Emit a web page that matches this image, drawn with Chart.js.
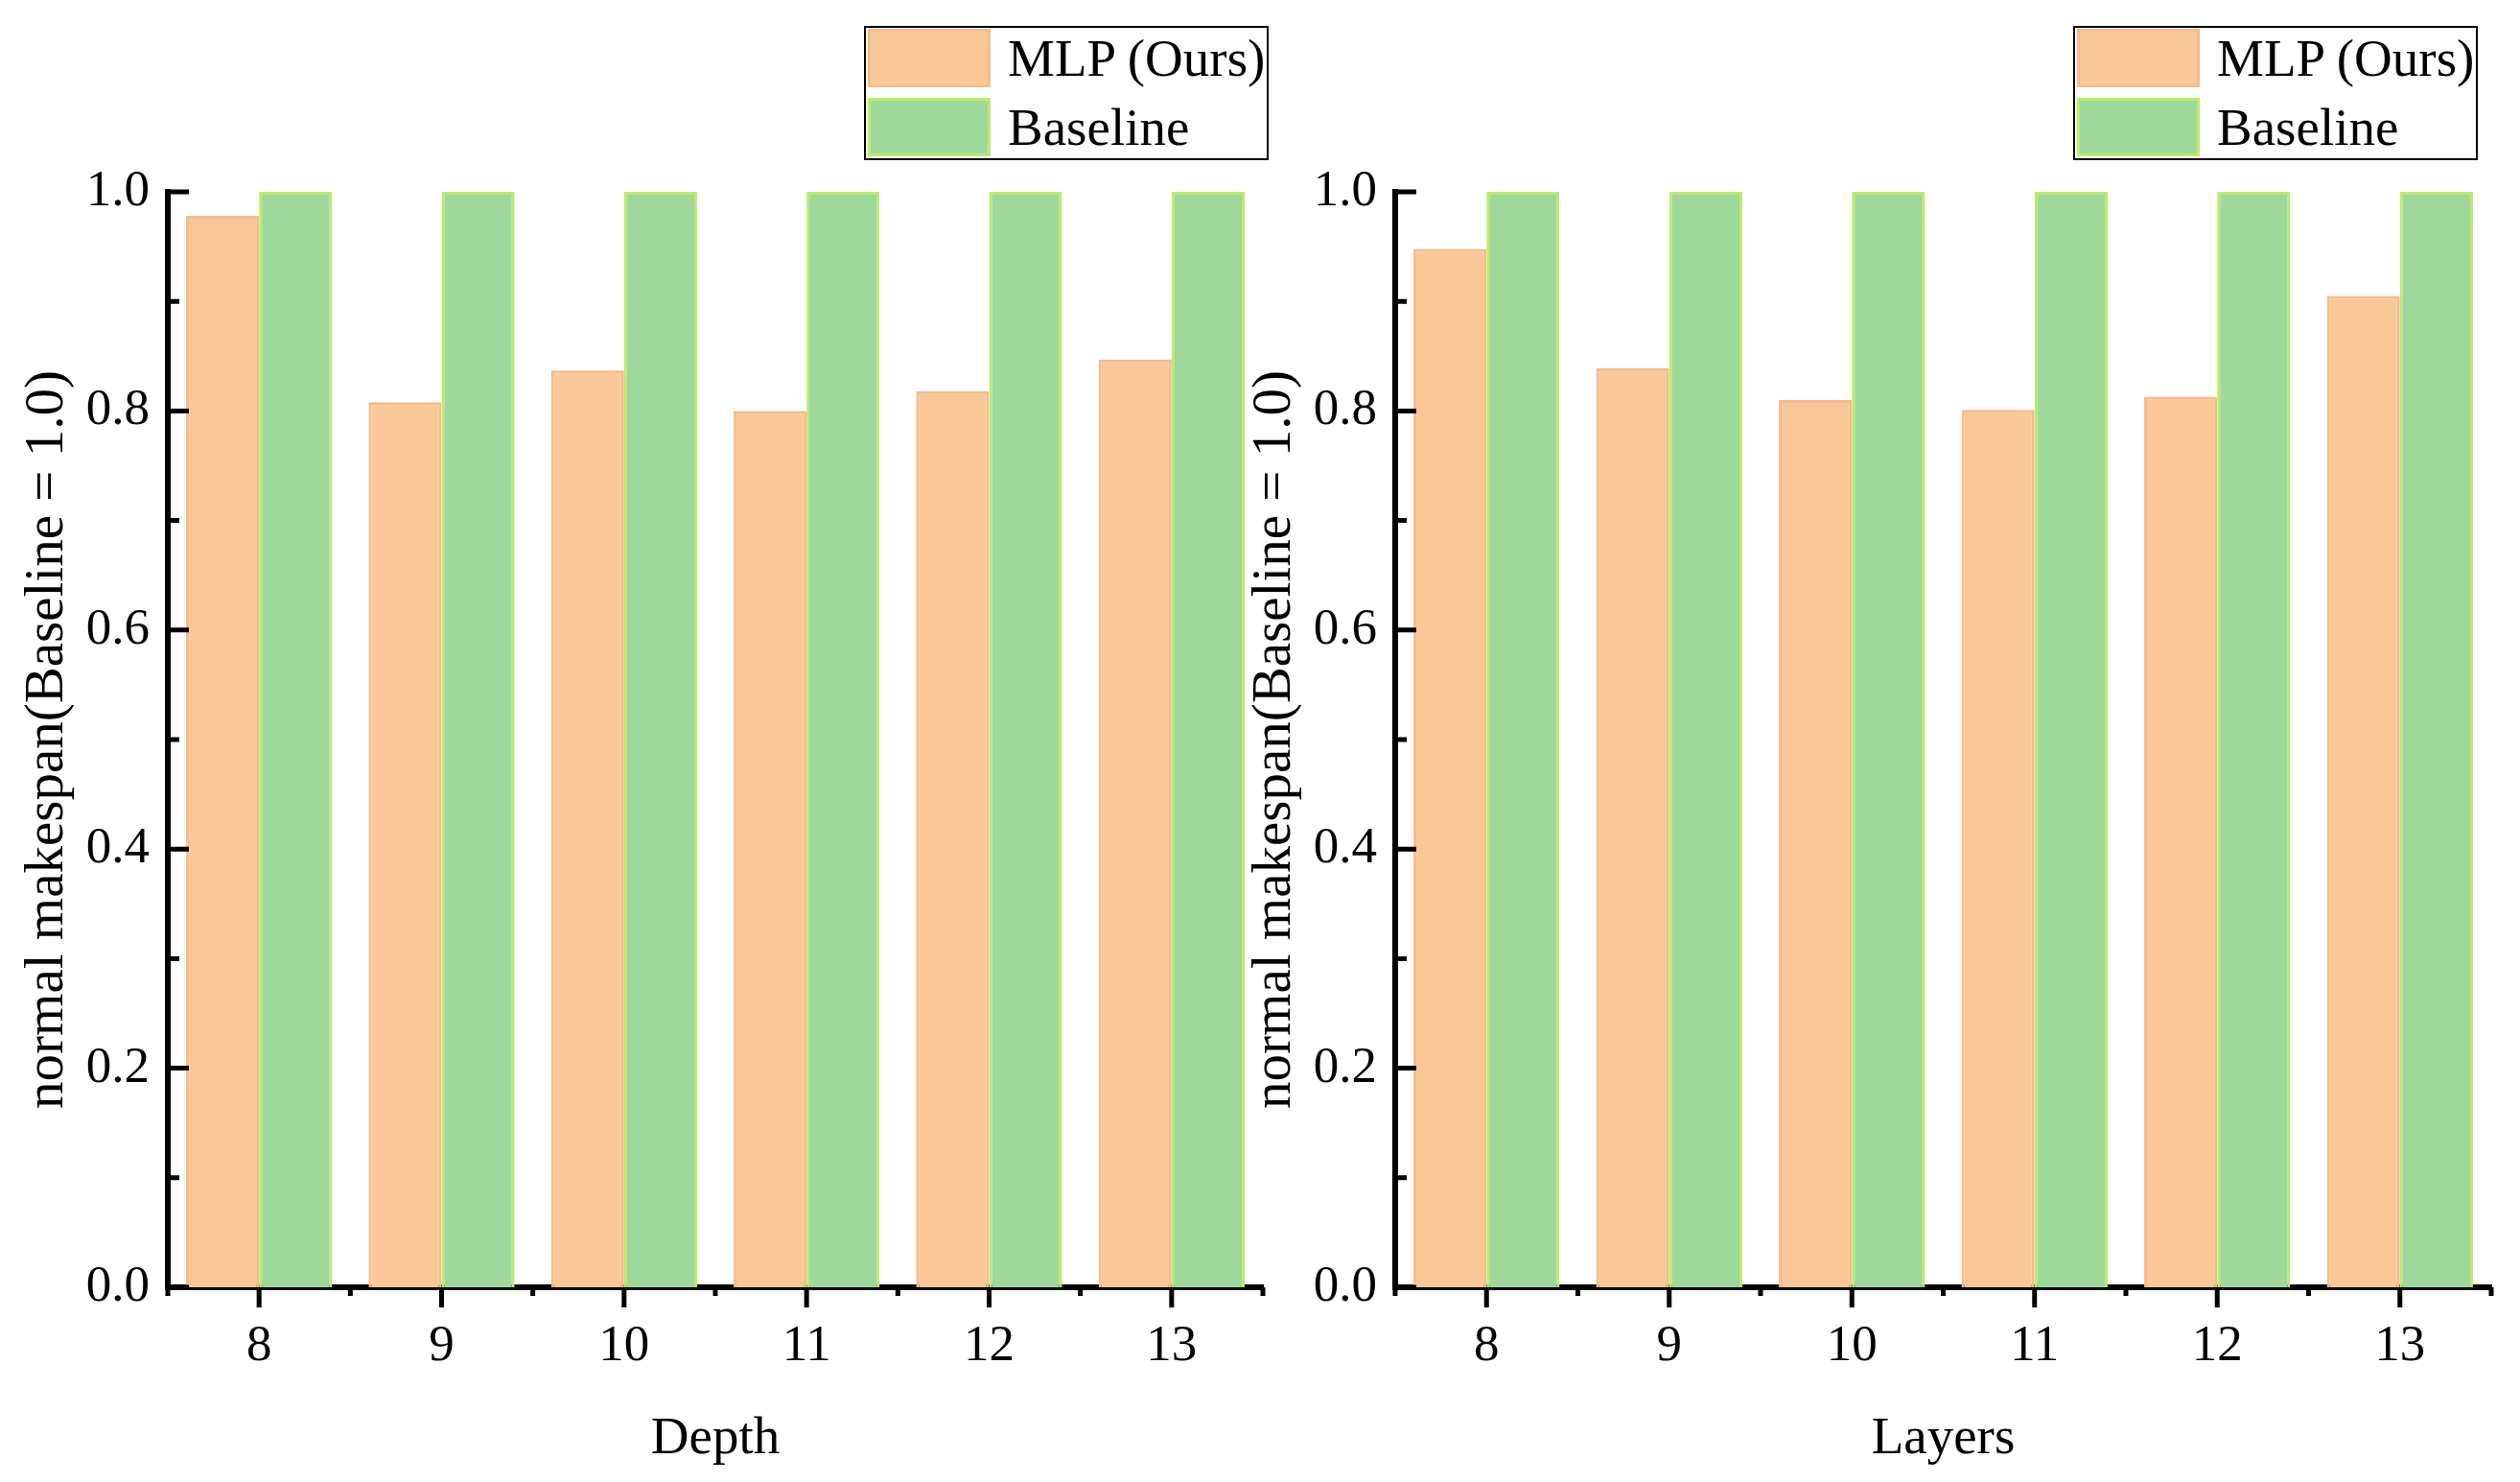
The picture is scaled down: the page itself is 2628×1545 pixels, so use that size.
<!DOCTYPE html>
<html lang="en">
<head>
<meta charset="UTF-8">
<title>Normal makespan - Depth / Layers</title>
<script src="https://cdn.jsdelivr.net/npm/chart.js"></script>
<style>
    html, body {
        margin: 0;
        padding: 0;
        background: #fff;
    }
    body {
        width: 2628px;
        height: 1545px;
        position: relative;
        overflow: hidden;
        font-family: "Liberation Serif", "Times New Roman", serif;
    }
    .panel {
        position: absolute;
        top: 0;
        height: 1545px;
    }
    #leftPanel { left: 0; width: 1340px; }
    #rightPanel { left: 1280px; width: 1348px; }
    .legend {
        position: absolute;
        top: 27px;
        width: 418px;
        height: 136px;
        border: 2px solid #000;
        background: #fff;
    }
    .legend-item {
        position: absolute;
        left: 2px;
        height: 61px;
        width: 410px;
    }
    .legend-item .swatch {
        position: absolute;
        left: 0;
        top: 0;
        width: 122px;
        height: 55px;
        border-width: 3px;
        border-style: solid;
    }
    .legend-item .label {
        position: absolute;
        left: 146px;
        top: 0;
        line-height: 61px;
        font-size: 55px;
        color: #000;
        white-space: nowrap;
    }
</style>
</head>
<body>
    <div class="panel" id="leftPanel">
        <canvas id="depthChart" width="1340" height="1545"></canvas>
        <div class="legend" id="depthLegend" style="left:901px"></div>
    </div>
    <div class="panel" id="rightPanel">
        <canvas id="layerChart" width="1348" height="1545"></canvas>
        <div class="legend" id="layerLegend" style="left:882px"></div>
    </div>

<script>
// data
const depthLabels = ['8', '9', '10', '11', '12', '13'];
const depthMLP = [0.978, 0.808, 0.837, 0.800, 0.818, 0.847];
const depthBaseline = [1.0, 1.0, 1.0, 1.0, 1.0, 1.0];

const layerLabels = ['8', '9', '10', '11', '12', '13'];
const layerMLP = [0.948, 0.839, 0.810, 0.801, 0.813, 0.905];
const layerBaseline = [1.0, 1.0, 1.0, 1.0, 1.0, 1.0];

const seriesNames = ['MLP (Ours)', 'Baseline'];
const yTitle = 'normal makespan(Baseline = 1.0)';

const FONT = '"Liberation Serif", "Times New Roman", serif';
Chart.defaults.font.family = FONT;
Chart.defaults.color = '#000';

const ORANGE = '#fac898';
const ORANGE_EDGE = '#f5bc8e';
const GREEN = '#9ed89b';
const GREEN_EDGE = '#bdeb69';

// ticks: y inward (major + minor), x outward (major at categories, minor at boundaries)
const tickMarks = {
    id: 'tickMarks',
    afterDraw(chart) {
        const ctx = chart.ctx;
        const xs = chart.scales.x;
        const ys = chart.scales.y;
        const left = chart.chartArea.left;
        const bottom = chart.chartArea.bottom;
        ctx.save();
        ctx.strokeStyle = '#000';
        ctx.lineWidth = 5;
        ctx.beginPath();
        const yt = ys.ticks;
        yt.forEach(function(t, i) {
            const py = ys.getPixelForValue(t.value);
            ctx.moveTo(left, py);
            ctx.lineTo(left + 22, py);
            if (i < yt.length - 1) {
                const my = ys.getPixelForValue((t.value + yt[i + 1].value) / 2);
                ctx.moveTo(left, my);
                ctx.lineTo(left + 12, my);
            }
        });
        const n = chart.data.labels.length;
        for (let i = 0; i < n; i++) {
            const px = xs.getPixelForValue(i);
            ctx.moveTo(px, bottom);
            ctx.lineTo(px, bottom + 21);
        }
        for (let i = 0; i <= n; i++) {
            const px = xs.getPixelForValue(i - 0.5);
            ctx.moveTo(px, bottom);
            ctx.lineTo(px, bottom + 9);
        }
        ctx.stroke();
        ctx.restore();
    }
};

function makeChart(canvasId, legendId, labels, mlp, baseline, xTitle, padRight) {
    const ctx = document.getElementById(canvasId).getContext('2d');
    const chart = new Chart(ctx, {
        type: 'bar',
        data: {
            labels: labels,
            datasets: [
                {
                    label: seriesNames[0],
                    data: mlp,
                    backgroundColor: ORANGE,
                    borderColor: ORANGE_EDGE,
                    borderWidth: 3
                },
                {
                    label: seriesNames[1],
                    data: baseline,
                    backgroundColor: GREEN,
                    borderColor: GREEN_EDGE,
                    borderWidth: 3
                }
            ]
        },
        options: {
            responsive: false,
            animation: false,
            devicePixelRatio: 1,
            categoryPercentage: 0.8,
            barPercentage: 1.0,
            layout: { padding: { top: 200, right: padRight, bottom: 0, left: 0 } },
            plugins: {
                legend: { display: false },
                tooltip: { enabled: false }
            },
            scales: {
                x: {
                    grid: { display: false, drawTicks: false },
                    border: { display: true, color: '#000', width: 6 },
                    ticks: { font: { family: FONT, size: 53 }, padding: 30, color: '#000' },
                    title: {
                        display: true,
                        text: xTitle,
                        font: { family: FONT, size: 55 },
                        padding: { top: 0, bottom: 11 },
                        color: '#000'
                    },
                    afterFit(scale) { scale.height = 203; }
                },
                y: {
                    min: 0,
                    max: 1.0,
                    grid: { display: false, drawTicks: false },
                    border: { display: true, color: '#000', width: 6 },
                    ticks: {
                        stepSize: 0.2,
                        font: { family: FONT, size: 53 },
                        padding: 19,
                        color: '#000',
                        callback: function(v) { return Number(v).toFixed(1); }
                    },
                    title: {
                        display: true,
                        text: yTitle,
                        font: { family: FONT, size: 57 },
                        padding: { top: 16, bottom: 0 },
                        color: '#000'
                    },
                    afterFit(scale) { scale.width = 175; }
                }
            }
        },
        plugins: [tickMarks]
    });

    // html legend built from the datasets
    const box = document.getElementById(legendId);
    chart.data.datasets.forEach(function(ds, i) {
        const item = document.createElement('div');
        item.className = 'legend-item';
        item.style.top = (1 + i * 72) + 'px';
        const sw = document.createElement('div');
        sw.className = 'swatch';
        sw.style.background = ds.backgroundColor;
        sw.style.borderColor = ds.borderColor;
        const lb = document.createElement('div');
        lb.className = 'label';
        lb.textContent = ds.label;
        item.appendChild(sw);
        item.appendChild(lb);
        box.appendChild(item);
    });
    return chart;
}

makeChart('depthChart', 'depthLegend', depthLabels, depthMLP, depthBaseline, 'Depth', 23);
makeChart('layerChart', 'layerLegend', layerLabels, layerMLP, layerBaseline, 'Layers', 30);
</script>
</body>
</html>
